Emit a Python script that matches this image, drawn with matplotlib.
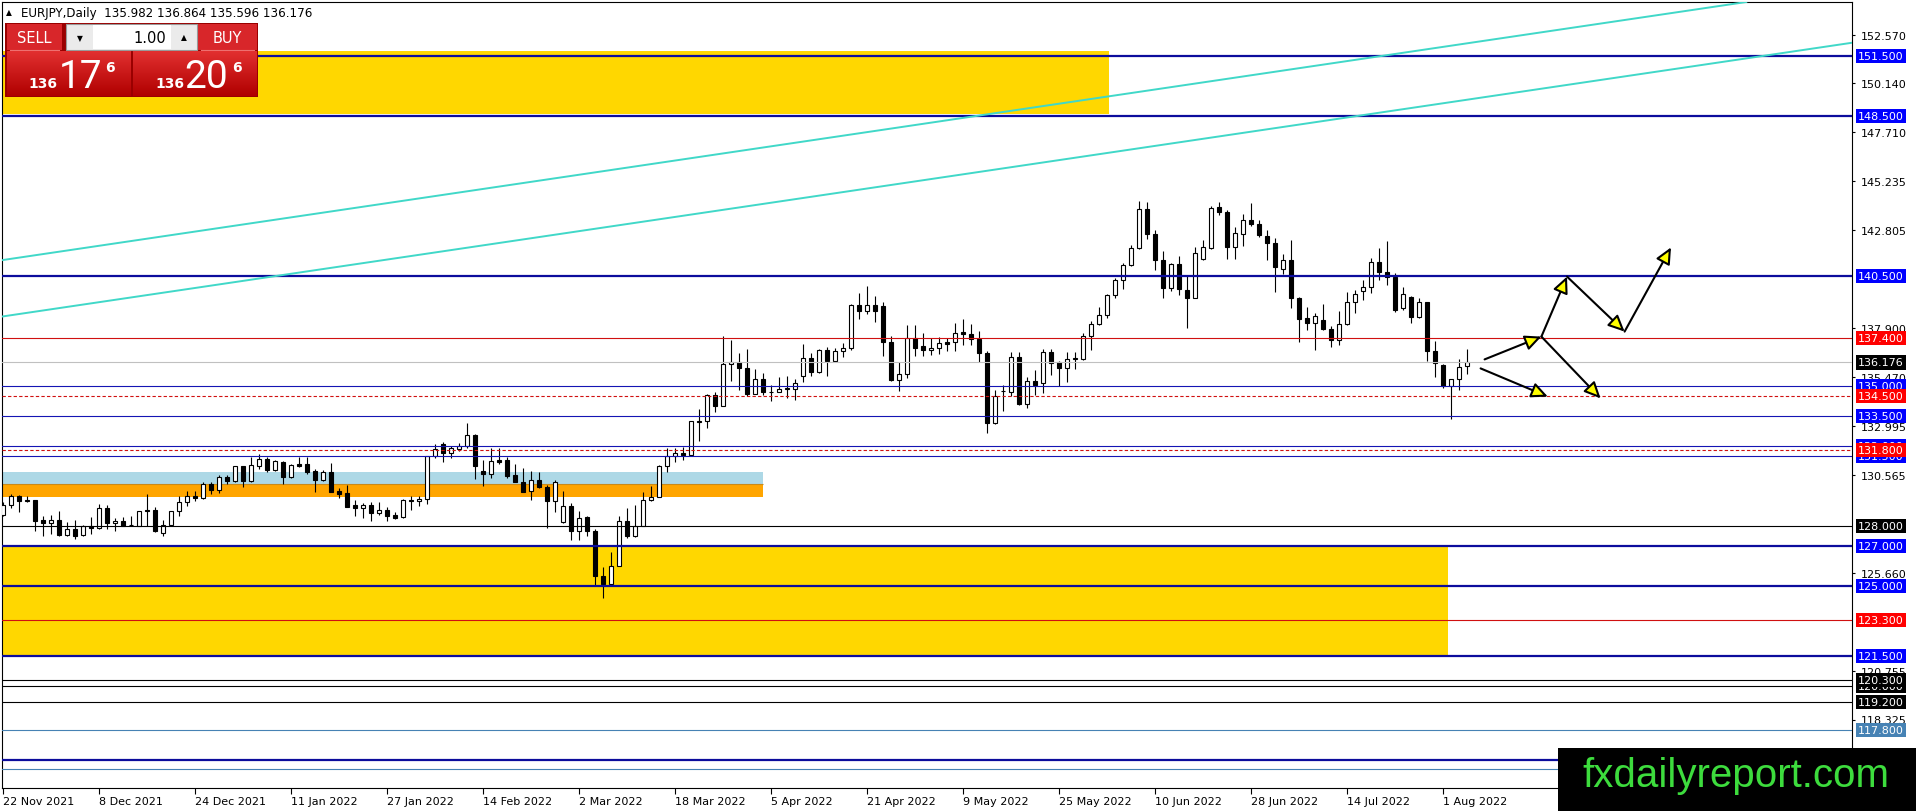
"""EURJPY daily chart with support/resistance levels, zones and scenario arrows (MT4 look)."""
import numpy as np
import matplotlib
matplotlib.use("Agg")
import matplotlib.pyplot as plt
import matplotlib.transforms as mtransforms
from matplotlib.patches import Rectangle, FancyArrowPatch
from matplotlib.colors import LinearSegmentedColormap

HEADER = "EURJPY,Daily  135.982 136.864 135.596 136.176"
BID = 136.176

# daily bars, 22 Nov 2021 .. 4 Aug 2022 (x = bar number)
opens = [128.57, 129.05, 129.50, 129.30, 129.30, 128.30, 128.13, 128.30, 127.57, 127.85,
         127.53, 128.02, 127.88, 128.88, 128.13, 128.23, 128.04, 128.02, 128.80, 128.80,
         127.65, 128.07, 128.73, 129.18, 129.52, 129.38, 130.08, 129.80, 130.43, 130.27,
         130.98, 130.23, 131.02, 131.35, 130.82, 131.18, 130.43, 131.08, 131.10, 130.77,
         130.32, 130.72, 129.77, 129.63, 129.05, 128.88, 129.05, 128.63, 128.80, 128.55,
         128.43, 129.30, 129.23, 129.35, 131.48, 132.10, 131.63, 131.85, 132.02, 132.55,
         130.77, 130.60, 131.30, 131.30, 130.55, 130.18, 129.73, 130.30, 129.97, 129.27,
         128.18, 129.02, 127.77, 128.43, 127.73, 125.48, 125.10, 125.98, 128.23, 127.52,
         127.98, 129.30, 129.47, 130.98, 131.52, 131.65, 131.55, 133.27, 133.27, 134.55,
         134.02, 136.10, 136.18, 135.88, 134.62, 135.35, 134.72, 134.72, 134.85, 134.85,
         135.52, 136.40, 135.68, 136.80, 136.27, 136.73, 136.88, 139.05, 138.77, 139.05,
         138.98, 137.22, 135.30, 135.60, 137.38, 137.01, 136.80, 136.91, 137.18, 137.18,
         137.68, 137.60, 137.35, 136.66, 133.13, 134.76, 134.71, 136.46, 134.08, 135.26,
         135.13, 136.71, 136.18, 135.88, 136.35, 136.35, 137.51, 138.10, 138.55, 139.55,
         140.30, 141.05, 141.88, 143.85, 142.60, 141.30, 139.88, 141.08, 139.80, 139.41,
         141.33, 141.88, 143.95, 143.70, 141.93, 142.58, 143.30, 143.08, 142.52, 142.13,
         140.85, 141.30, 139.38, 138.40, 138.13, 138.30, 137.83, 137.30, 138.08, 139.18,
         139.75, 139.97, 141.22, 140.68, 140.43, 138.88, 139.47, 138.43, 139.18, 136.77,
         136.05, 135.00, 135.33, 135.982]
highs = [129.18, 129.60, 129.55, 129.48, 129.32, 128.52, 128.57, 128.73, 128.18, 128.30,
         128.05, 128.43, 129.10, 129.05, 128.40, 128.43, 128.52, 128.77, 129.60, 128.93,
         128.30, 128.77, 129.48, 129.77, 129.77, 130.18, 130.18, 130.55, 130.55, 131.02,
         131.02, 131.43, 131.60, 131.43, 131.32, 131.27, 131.10, 131.43, 131.43, 130.85,
         130.80, 131.15, 129.90, 130.05, 129.30, 129.15, 129.18, 129.22, 128.93, 128.68,
         129.35, 129.48, 129.52, 131.52, 132.10, 132.18, 132.02, 132.15, 133.15, 132.60,
         131.32, 131.88, 131.88, 131.43, 131.10, 130.88, 130.73, 130.72, 130.05, 130.30,
         129.77, 129.15, 128.73, 128.48, 127.85, 125.93, 126.68, 128.48, 128.88, 129.05,
         129.68, 129.98, 131.05, 131.88, 131.88, 131.93, 133.27, 133.85, 134.60, 134.68,
         137.52, 137.32, 136.65, 136.85, 135.85, 135.65, 135.07, 135.43, 135.48, 135.35,
         137.10, 136.65, 136.85, 136.93, 136.90, 137.15, 139.12, 139.65, 139.98, 139.48,
         139.22, 137.52, 136.18, 138.05, 138.05, 137.63, 137.38, 137.46, 137.41, 138.16,
         138.33, 138.08, 137.75, 136.75, 134.80, 135.05, 136.71, 136.71, 135.46, 135.80,
         136.83, 136.83, 136.25, 136.68, 136.71, 137.63, 138.26, 138.96, 139.58, 140.38,
         141.13, 142.05, 144.25, 144.21, 142.80, 141.75, 141.13, 141.50, 140.51, 141.96,
         142.30, 144.00, 144.20, 143.80, 142.97, 143.60, 144.17, 143.30, 142.80, 142.38,
         141.58, 142.30, 139.47, 138.97, 138.63, 139.08, 138.00, 138.75, 139.68, 139.80,
         140.30, 141.38, 141.88, 142.25, 140.63, 139.97, 139.50, 139.42, 139.22, 137.25,
         136.08, 135.35, 136.35, 136.864]
lows = [128.52, 128.88, 128.68, 129.20, 127.77, 127.48, 127.60, 127.52, 127.48, 127.35,
        127.48, 127.60, 127.85, 127.85, 127.77, 127.98, 127.98, 127.98, 128.02, 127.72,
        127.48, 128.02, 128.52, 129.02, 129.27, 129.35, 129.60, 129.63, 130.08, 130.18,
        129.97, 130.18, 130.85, 130.68, 130.77, 130.10, 130.38, 130.93, 130.60, 129.72,
        130.27, 129.68, 129.38, 128.97, 128.52, 128.38, 128.23, 128.55, 128.27, 128.35,
        128.42, 128.82, 129.02, 129.10, 131.38, 131.22, 131.38, 131.77, 131.88, 130.35,
        130.02, 130.38, 131.10, 130.38, 130.18, 129.68, 129.32, 129.90, 127.88, 128.68,
        128.15, 127.32, 127.30, 127.52, 125.02, 124.38, 125.10, 125.98, 127.38, 127.43,
        127.98, 129.23, 129.47, 130.68, 131.18, 131.32, 131.55, 132.27, 132.92, 133.68,
        133.98, 135.27, 134.82, 134.48, 134.58, 134.55, 134.27, 134.68, 134.38, 134.32,
        135.22, 135.52, 135.65, 135.52, 136.22, 136.43, 136.82, 138.35, 138.60, 138.22,
        136.48, 135.27, 134.76, 135.38, 136.51, 136.50, 136.55, 136.58, 136.75, 136.75,
        137.05, 137.05, 136.18, 132.63, 133.08, 133.75, 134.51, 134.05, 133.88, 134.55,
        134.63, 135.55, 135.01, 135.21, 135.85, 136.30, 136.80, 138.05, 138.41, 139.41,
        139.83, 141.00, 141.85, 142.35, 140.80, 139.41, 139.75, 139.55, 137.88, 139.38,
        141.28, 141.83, 143.55, 141.33, 141.33, 142.00, 143.00, 142.47, 141.30, 139.72,
        140.58, 138.88, 137.22, 137.80, 136.80, 137.80, 136.93, 137.05, 138.05, 138.67,
        139.30, 139.63, 140.30, 140.05, 138.72, 138.80, 138.13, 138.38, 136.27, 135.47,
        134.88, 133.35, 134.80, 135.596]
closes = [129.05, 129.48, 129.23, 129.23, 128.27, 128.13, 128.30, 127.57, 127.85, 127.52,
          128.02, 127.88, 128.88, 128.13, 128.23, 128.02, 128.06, 128.73, 128.73, 127.73,
          128.07, 128.73, 129.18, 129.52, 129.40, 130.08, 129.80, 130.43, 130.27, 130.98,
          130.23, 131.05, 131.35, 130.82, 131.27, 130.43, 131.05, 131.02, 130.72, 130.32,
          130.72, 129.68, 129.60, 128.97, 128.92, 129.05, 128.63, 128.80, 128.52, 128.40,
          129.30, 129.23, 129.35, 131.48, 131.85, 131.63, 131.88, 132.02, 132.55, 130.98,
          130.60, 131.23, 131.22, 130.52, 130.18, 129.72, 130.30, 129.93, 129.27, 130.22,
          128.98, 127.77, 128.40, 127.73, 125.48, 125.10, 125.98, 128.23, 127.52, 127.98,
          129.30, 129.47, 130.98, 131.52, 131.65, 131.55, 133.25, 133.22, 134.55, 134.02,
          136.10, 136.18, 135.88, 134.62, 135.35, 134.68, 134.68, 134.85, 134.88, 135.13,
          136.40, 135.68, 136.80, 136.27, 136.73, 136.88, 139.05, 138.77, 139.05, 138.77,
          137.22, 135.30, 135.60, 137.38, 136.88, 136.80, 136.91, 137.13, 137.11, 137.66,
          137.60, 137.35, 136.66, 133.13, 134.51, 134.73, 136.46, 134.08, 135.26, 135.05,
          136.71, 136.16, 135.88, 136.35, 136.38, 137.51, 138.10, 138.55, 139.55, 140.30,
          141.05, 141.88, 143.85, 142.60, 141.30, 139.88, 141.08, 139.83, 139.41, 141.63,
          141.93, 143.90, 143.70, 141.93, 142.63, 143.30, 143.08, 142.55, 142.13, 140.93,
          141.30, 139.38, 138.33, 138.13, 138.50, 137.83, 137.30, 138.08, 139.18, 139.58,
          139.97, 141.22, 140.68, 140.43, 138.80, 139.58, 138.43, 139.18, 136.77, 136.17,
          135.00, 135.33, 135.97, 136.176]

date_labels = ["22 Nov 2021", "8 Dec 2021", "24 Dec 2021", "11 Jan 2022", "27 Jan 2022",
               "14 Feb 2022", "2 Mar 2022", "18 Mar 2022", "5 Apr 2022", "21 Apr 2022",
               "9 May 2022", "25 May 2022", "10 Jun 2022", "28 Jun 2022", "14 Jul 2022",
               "1 Aug 2022"]
DATE_STEP = 12  # bars between date labels

price_ticks = [152.570, 150.140, 147.710, 145.235, 142.805, 137.900, 135.470,
               132.995, 130.565, 125.660, 120.755, 118.325]

# horizontal levels (drawn in this order, later labels cover earlier ones)
levels = [151.5, 148.5, 140.5, 137.4, 135.0, 134.5, 133.5, 132.0, 131.5, 131.8,
          128.0, 127.0, 125.0, 123.3, 121.5, 120.0, 120.3, 119.2, 117.8, 116.3, 115.85]
level_kinds = ["major", "major", "major", "red", "minor", "reddash", "minor", "minor",
               "minor", "reddash", "black", "major", "major", "red", "major", "black",
               "black", "black", "steel", "major", "steel"]
HIDDEN_BELOW = 117.0  # price labels under the watermark are not visible

# rectangles: price band and last bar they reach
zone_lo = [148.6, 121.5, 130.1, 129.47]
zone_hi = [151.75, 127.0, 130.7, 130.08]
zone_end = [138.3, 180.6, 95.0, 95.0]
zone_kinds = ["gold", "gold", "light", "orange"]

# two parallel channel lines: (bar, price) anchors
channel_lines = [((0, 141.30), (200, 153.14)), ((0, 138.48), (200, 150.32))]

# scenario arrows: (bar, price) start -> end
arrows = [((185.2, 136.33), (192.3, 137.47)),
          ((192.3, 137.47), (195.5, 140.47)),
          ((195.5, 140.47), (202.7, 137.72)),
          ((202.7, 137.72), (208.5, 141.93)),
          ((184.7, 135.88), (193.1, 134.47)),
          ((192.3, 137.47), (199.7, 134.38))]

LINE_STYLE = {
    "major": dict(color="#0c0c9c", lw=1.6, ls="-"),
    "minor": dict(color="#1414b4", lw=0.8, ls="-"),
    "red": dict(color="#d01010", lw=0.8, ls="-"),
    "reddash": dict(color="#d01010", lw=0.8, ls=(0, (3, 2))),
    "black": dict(color="black", lw=0.8, ls="-"),
    "steel": dict(color="#4682b4", lw=0.8, ls="-"),
}
LABEL_COLOR = {"major": "#0000ff", "minor": "#0000ff", "red": "#ff0000",
               "reddash": "#ff0000", "black": "black", "steel": "#4682b4"}
ZONE_COLOR = {"gold": "#ffd700", "light": "#add8e6", "orange": "#ffa500"}

W, H = 1916, 812
fig = plt.figure(figsize=(W / 100, H / 100), dpi=100)
fig.patch.set_facecolor("white")
ax = fig.add_axes([2 / W, (H - 789) / H, 1850 / W, 786 / H])
ax.set_xlim(-0.125, 231.125)
ax.set_ylim(114.9, 154.2)

# zones behind the candles
for lo, hi, end, kind in zip(zone_lo, zone_hi, zone_end, zone_kinds):
    ax.fill_between([-1, end], lo, hi, color=ZONE_COLOR[kind], lw=0, zorder=0.5)
    if kind == "orange":
        ax.hlines(hi, -1, end, color="#c98a1a", lw=0.8, zorder=0.6)

# candles
x = np.arange(len(opens))
o = np.array(opens)
c = np.array(closes)
up = c >= o
ax.vlines(x, lows, highs, color="black", lw=0.8, zorder=2)
ax.bar(x[up], (c - o)[up], bottom=o[up], width=0.58, facecolor="white",
       edgecolor="black", lw=0.8, zorder=3)
ax.bar(x[~up], (c - o)[~up], bottom=o[~up], width=0.58, facecolor="black",
       edgecolor="black", lw=0.8, zorder=3)

# levels, bid line, channel
for lvl, kind in zip(levels, level_kinds):
    ax.axhline(lvl, zorder=4, **LINE_STYLE[kind])
ax.axhline(BID, color="#c0c0c0", lw=0.8, zorder=3.5)
for p1, p2 in channel_lines:
    ax.axline(p1, p2, color="#40d8c8", lw=1.4, zorder=4)

for start, end in arrows:
    ax.add_patch(FancyArrowPatch(start, end, arrowstyle="-|>,head_length=0.9,head_width=0.42",
                                 mutation_scale=11, lw=1.5, fc="#ffff00", ec="black",
                                 shrinkA=0, shrinkB=0, zorder=5))

# axes look
for s in ax.spines.values():
    s.set_color("black")
    s.set_linewidth(0.8)
ax.yaxis.tick_right()
ax.set_yticks(price_ticks)
ax.set_yticklabels([f"{v:.3f}" for v in price_ticks])
ax.tick_params(axis="y", direction="out", length=2.5, width=0.8, labelsize=8, pad=3.5)
ax.set_xticks(np.arange(len(date_labels)) * DATE_STEP)
ax.set_xticklabels(date_labels)
for lab in ax.get_xticklabels():
    lab.set_horizontalalignment("left")
ax.tick_params(axis="x", direction="out", length=4, width=0.8, labelsize=8, pad=2)

# coloured price labels on the right scale
ytrans = mtransforms.blended_transform_factory(ax.transAxes, ax.transData)
label_x = (1858 - 2) / 1850
for i, (lvl, kind) in enumerate(zip(levels, level_kinds)):
    if lvl < HIDDEN_BELOW:
        continue
    ax.text(label_x, lvl, f"{lvl:.3f}", transform=ytrans, fontsize=8, color="white",
            va="center", ha="left", clip_on=False, zorder=10 + i,
            bbox=dict(boxstyle="square,pad=0.22", fc=LABEL_COLOR[kind], ec="none"))
ax.text(label_x, BID, f"{BID:.3f}", transform=ytrans, fontsize=8, color="white",
        va="center", ha="left", clip_on=False, zorder=40,
        bbox=dict(boxstyle="square,pad=0.22", fc="black", ec="none"))

# overlay in pixel units: header, trade panel, watermark
ov = fig.add_axes([0, 0, 1, 1], zorder=10)
ov.set_axis_off()


def box(x0, y0, w, h, fc, ec="none", lw=0):
    ov.add_patch(Rectangle((x0, y0), w, h, fc=fc, ec=ec, lw=lw))


ov.text(6, 13, "\u25b2", fontsize=5.5, va="center", ha="left")
ov.text(21, 13, HEADER, fontsize=8.6, va="center", ha="left")

box(5, 24, 253, 74, "#9a0000")
box(7, 25, 55, 26, "#d8262a")
box(198, 25, 59, 26, "#d8262a")
ov.plot([10, 59], [50.5, 50.5], color="#ee7070", lw=0.8)
ov.plot([201, 254], [50.5, 50.5], color="#ee7070", lw=0.8)
ov.text(34.5, 38.5, "SELL", fontsize=10.5, color="white", ha="center", va="center")
ov.text(227.5, 38.5, "BUY", fontsize=10.5, color="white", ha="center", va="center")
box(66, 25, 131, 26, "#ebebeb", ec="#9a9a9a", lw=0.8)
box(93, 26, 78, 24, "white")
ov.text(166, 38.5, "1.00", fontsize=10.5, ha="right", va="center")
ov.text(80, 38.5, "\u25bc", fontsize=5.5, ha="center", va="center")
ov.text(184, 38, "\u25b2", fontsize=5.5, ha="center", va="center")

grad = np.linspace(0, 1, 64).reshape(-1, 1)
cmap = LinearSegmentedColormap.from_list("panel", ["#e23030", "#b00000"])
for left in (7, 133):
    ov.imshow(grad, extent=(left, left + 124, 97, 52), cmap=cmap, aspect="auto", zorder=2)
big = dict(color="white", family=["Roboto", "DejaVu Sans"], fontsize=28,
           va="baseline", ha="left", zorder=3)
small = dict(color="white", fontsize=10, fontweight="bold", va="baseline", zorder=3)
ov.text(43, 88, "136", ha="center", **small)
ov.text(59, 88, "17", **big)
ov.text(110, 72, "6", ha="center", **small)
ov.text(170, 88, "136", ha="center", **small)
ov.text(184, 88, "20", **big)
ov.text(237, 72, "6", ha="center", **small)

box(1558, 749, 358, 63, "black")
ov.text(1736, 787, "fxdailyreport.com", color="#3ddc3d", fontsize=29,
        family=["Liberation Sans Narrow", "Liberation Sans"], ha="center", va="baseline")

ov.set_xlim(0, W)
ov.set_ylim(H, 0)

fig.savefig("out.png", dpi=100)
